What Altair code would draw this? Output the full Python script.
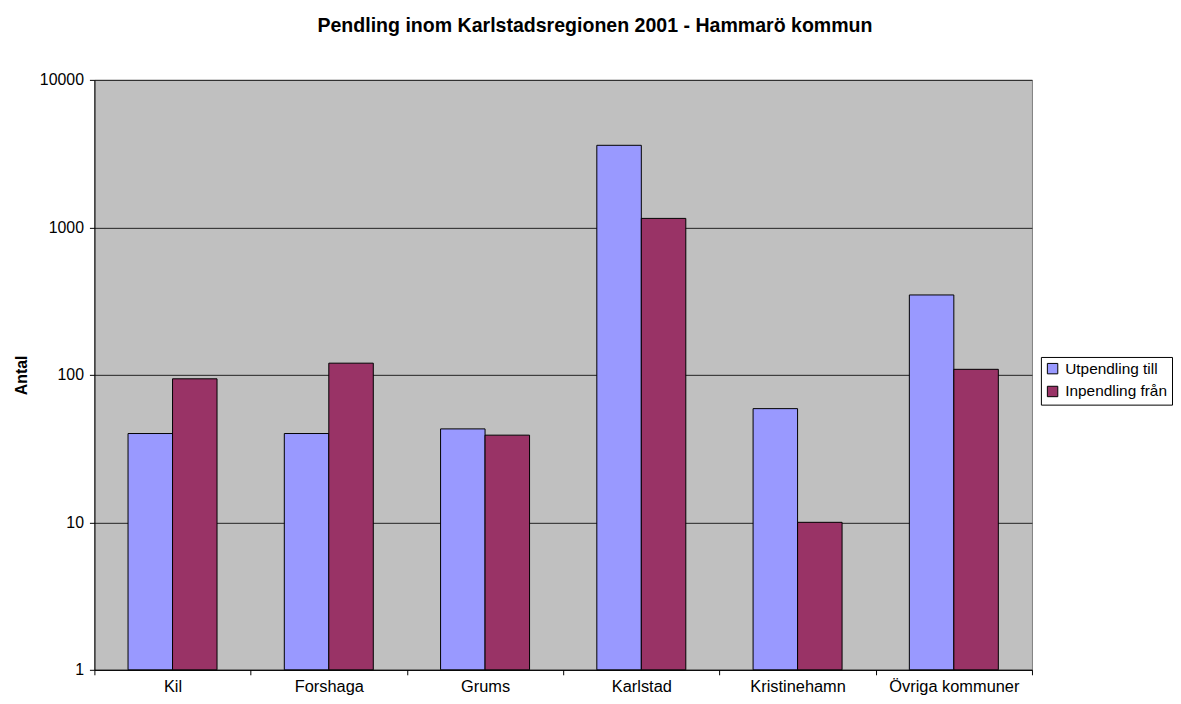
import altair as alt
import pandas as pd

categories = ["Kil", "Forshaga", "Grums", "Karlstad", "Kristinehamn", "Övriga kommuner"]
series = ["Utpendling till", "Inpendling från"]
utpendling = [40, 40, 43, 3600, 59, 348]
inpendling = [94, 120, 39, 1150, 10, 109]
colors = ["#9999FF", "#993366"]
y_ticks = [1, 10, 100, 1000, 10000]

rows = []
for c, u, i in zip(categories, utpendling, inpendling):
    rows.append({"kommun": c, "serie": series[0], "antal": u})
    rows.append({"kommun": c, "serie": series[1], "antal": i})
df = pd.DataFrame(rows)

W, H = 944, 594
FONT = "Liberation Sans"

bars = alt.Chart(df).mark_bar(stroke="black", strokeWidth=1).encode(
    x=alt.X("kommun:N", sort=categories,
            scale=alt.Scale(paddingInner=0, paddingOuter=0),
            axis=alt.Axis(title=None, labelAngle=0, tickBand="extent", tickSize=5,
                          tickColor="black", domainColor="black", labelColor="black",
                          labelFontSize=16.5, labelFont=FONT, labelPadding=4, grid=False)),
    xOffset=alt.XOffset("serie:N", sort=series,
                        scale=alt.Scale(paddingInner=0, paddingOuter=0.756)),
    y=alt.Y("antal:Q",
            scale=alt.Scale(type="log", domain=[1, 10000]),
            axis=alt.Axis(title="Antal", values=y_ticks, format="d", tickSize=5,
                          tickColor="black", domainColor="black", labelColor="black",
                          labelFontSize=16, labelFont=FONT, labelPadding=6,
                          grid=True, gridColor="#222222", gridWidth=1,
                          titleFont=FONT, titleFontSize=16, titleFontWeight="bold",
                          titleColor="black", titleAngle=270, titleX=-73, titleY=H / 2,
                          titleAlign="center", titleBaseline="middle")),
    y2=alt.datum(1),
    color=alt.Color("serie:N", sort=series,
                    scale=alt.Scale(domain=series, range=colors),
                    legend=alt.Legend(title=None, orient="none", legendX=953, legendY=279,
                                      symbolType="square", symbolSize=110,
                                      symbolStrokeColor="black", symbolStrokeWidth=1,
                                      labelFontSize=15.5, labelFont=FONT, labelColor="black",
                                      strokeColor="black", fillColor="white",
                                      padding=4, rowPadding=6, labelOffset=5)),
)

chart = bars.properties(
    width=W, height=H,
    padding={"left": 87, "top": 70, "right": 142, "bottom": 23},
    autosize=alt.AutoSizeParams(type="none"),
    title=alt.TitleParams("Pendling inom Karlstadsregionen 2001 - Hammarö kommun",
                          fontSize=19.7, fontWeight="bold", font=FONT, color="black",
                          anchor="middle", offset=36, dx=32),
).configure_view(fill="#C0C0C0", stroke="#808080", strokeWidth=1)

chart.save("out.html", embed_options={"renderer": "svg", "actions": False})
